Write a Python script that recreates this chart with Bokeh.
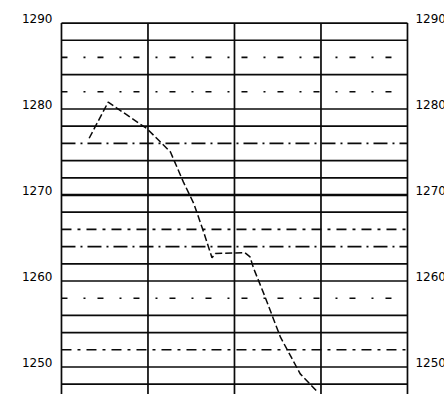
from bokeh.plotting import figure
from bokeh.models import Range1d, LabelSet, ColumnDataSource
from bokeh.core.properties import value
from bokeh.embed import file_html
from bokeh.resources import INLINE

# ---- data ----
x_pos = [0.32, 0.54, 0.99, 1.13, 1.26, 1.41, 1.53, 1.65, 1.74, 1.78, 2.12, 2.18, 2.22, 2.34, 2.53, 2.76, 2.96]
level = [1276.6, 1280.8, 1277.7, 1276.3, 1275.0, 1271.5, 1269.0, 1265.5, 1262.7, 1263.2, 1263.3,
         1262.8, 1261.5, 1258.5, 1253.5, 1249.2, 1247.1]

column_lines = [0, 1, 2, 3, 4]
solid_rows = [1248, 1250, 1254, 1256, 1260, 1262, 1268, 1272, 1274, 1278, 1280, 1284, 1288, 1290]
thick_rows = [1270]
sparse_rows = [1258, 1282, 1286]
dashed_rows = [1252, 1266]
dashdot_rows = [1264, 1276]

tick_values = [1250, 1260, 1270, 1280, 1290]
tick_labels = ["1250", "1260", "1270", "1280", "1290"]

y_lo, y_hi = 1246.80, 1292.62
x_lo, x_hi = -0.705, 4.428

p = figure(width=444, height=394,
           x_range=Range1d(x_lo, x_hi), y_range=Range1d(y_lo, y_hi),
           x_axis_location=None, y_axis_location=None,
           output_backend="svg", toolbar_location=None,
           min_border=0, outline_line_color=None,
           background_fill_color="white", border_fill_color="white")
p.grid.grid_line_color = None

x_left, x_right = column_lines[0], column_lines[-1]
y_top = solid_rows[-1]

# vertical column lines (from the bottom of the view up to the top row)
p.segment(x0=column_lines, y0=[y_lo] * len(column_lines), x1=column_lines, y1=[y_top] * len(column_lines),
          line_color="#0a0a0a", line_width=1.7)

def rows(levels, width, dash="solid"):
    n = len(levels)
    p.segment(x0=[x_left] * n, y0=levels, x1=[x_right] * n, y1=levels,
              line_color="#0a0a0a", line_width=width, line_dash=dash)

rows(solid_rows, 1.7)
rows(thick_rows, 2.5)
rows(sparse_rows, 1.6, "6 16 2 12")
rows(dashed_rows, 1.6, "10 6 3 6")
rows(dashdot_rows, 1.6, "14 5 2 5")

p.line(x_pos, level, line_color="#0a0a0a", line_width=1.5, line_dash="7 3")

src_left = ColumnDataSource(dict(x=[x_left] * len(tick_values), y=tick_values, t=tick_labels))
src_right = ColumnDataSource(dict(x=[x_right] * len(tick_values), y=tick_values, t=tick_labels))
p.add_layout(LabelSet(x="x", y="y", text="t", source=src_left, x_offset=-9,
                      text_align="right", text_baseline="alphabetic",
                      text_font=value("DejaVu Sans"), text_font_size="12px", text_color="#000000"))
p.add_layout(LabelSet(x="x", y="y", text="t", source=src_right, x_offset=8,
                      text_align="left", text_baseline="alphabetic",
                      text_font=value("DejaVu Sans"), text_font_size="12px", text_color="#000000"))

open("out.html", "w").write(file_html(p, INLINE))
